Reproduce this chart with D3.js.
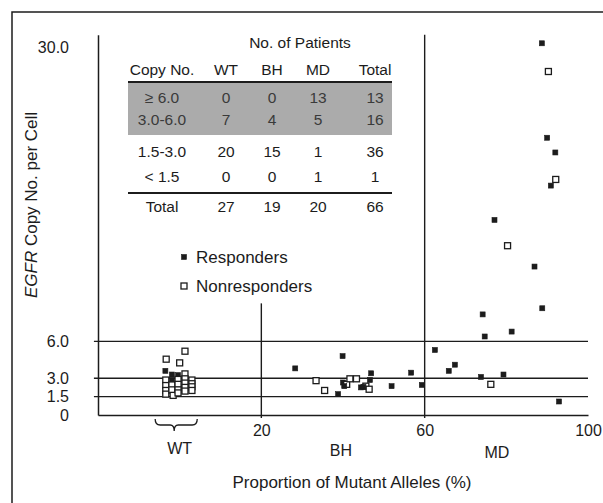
<!DOCTYPE html>
<html><head><meta charset="utf-8">
<script src="https://cdn.jsdelivr.net/npm/d3@7"></script>
<style>
body{margin:0;background:#fff;}
svg{display:block;font-family:"Liberation Sans",Arial,Helvetica,sans-serif;}
</style></head><body>
<svg id="chart" width="603" height="503"></svg>
<script>
// ---------- data ----------
const xTicks = [20, 60, 100];
const yTicks = [0, 1.5, 3.0, 6.0, 30.0];
const thresholds = [1.5, 3.0, 6.0];
const dividers = [20, 60];
const dividerTops = [9.1, 31];
const groupLabels = ["WT", "BH", "MD"];
const groupCenters = [0, 39.5, 77.7];
const wtBrace = [-6, 4.3];

// responders: 1 = responder (filled), 0 = nonresponder (open)
const wtX = [1.3, -3.3, 0.0, -3.5, -1.9, -0.4, 1.3,
  -3.4, -3.4, -3.4, -3.4, -1.9, -1.9, -1.9, -1.6, -0.4, -0.4, -0.4, -0.4,
  1.3, 1.3, 1.3, 1.3, 3.0, 3.0, 3.0, 3.0];
const wtY = [5.2, 4.55, 4.25, 3.6, 3.3, 3.25, 3.35,
  2.85, 2.4, 2.0, 1.7, 2.85, 2.45, 2.05, 1.6, 2.9, 2.5, 2.05, 1.8,
  2.95, 2.6, 2.25, 1.95, 2.85, 2.55, 2.3, 2.0];
const wtResp = [0, 0, 0, 1, 1, 1, 0,
  0, 0, 0, 0, 1, 0, 0, 0, 0, 0, 0, 0,
  0, 0, 0, 0, 0, 0, 0, 0];

const bhX = [28.3, 39.9, 46.9, 56.7, 33.4, 35.5, 38.8, 40.0, 40.9, 40.3, 41.7, 43.3, 44.4, 45.6, 46.4, 46.6, 51.9, 59.3, 45.0];
const bhY = [3.8, 4.8, 3.4, 3.45, 2.8, 2.0, 1.7, 2.65, 2.5, 2.35, 2.95, 2.95, 2.25, 2.35, 2.1, 2.85, 2.35, 2.45, 2.3];
const bhResp = [1, 1, 1, 1, 0, 0, 1, 1, 0, 1, 0, 0, 1, 0, 0, 1, 1, 1, 1];

const mdX = [88.7, 90.3, 90.0, 92.0, 92.1, 90.9, 77.1, 80.3, 86.9, 88.8, 74.2, 74.7, 81.3, 62.5, 67.4, 65.9, 73.8, 79.3, 76.2, 92.9];
const mdY = [30.3, 28.0, 22.6, 21.4, 19.2, 18.7, 15.9, 13.8, 12.1, 8.7, 8.2, 6.4, 6.8, 5.3, 4.1, 3.6, 3.1, 3.3, 2.5, 1.1];
const mdResp = [1, 0, 1, 1, 0, 1, 1, 0, 1, 1, 1, 1, 1, 1, 1, 1, 1, 1, 0, 1];

const legendLabels = ["Responders", "Nonresponders"];

const tableTitle = "No. of Patients";
const tableHeader = ["Copy No.", "WT", "BH", "MD", "Total"];
const tableRowLabels = ["\u2265 6.0", "3.0-6.0", "1.5-3.0", "< 1.5"];
const tableWT = [0, 7, 20, 0];
const tableBH = [0, 4, 15, 0];
const tableMD = [13, 5, 1, 1];
const tableTotal = [13, 16, 36, 1];
const tableTotalsRow = ["Total", 27, 19, 20, 66];

// ---------- chart ----------
const svg = d3.select("#chart");
const ink = "#1c1c1c";
const x = d3.scaleLinear().domain([-20, 100]).range([98, 588]);
const y = d3.scaleLinear().domain([0, 31]).range([415, 34.7]);

// frame
svg.append("path").attr("d", "M12,503V12H603").attr("fill", "none")
  .attr("stroke", ink).attr("stroke-width", 1.5);

// threshold lines
svg.selectAll("line.thr").data(thresholds).join("line").attr("class", "thr")
  .attr("x1", x(-21)).attr("x2", x(100)).attr("y1", d => y(d)).attr("y2", d => y(d))
  .attr("stroke", ink).attr("stroke-width", 1.4);

// dividers
svg.selectAll("line.div").data(dividers).join("line").attr("class", "div")
  .attr("x1", d => x(d)).attr("x2", d => x(d))
  .attr("y1", (d, i) => y(dividerTops[i])).attr("y2", y(0) + 3)
  .attr("stroke", ink).attr("stroke-width", 1.4);

// axes
const yAxis = d3.axisLeft(y).tickValues(yTicks).tickSize(0).tickPadding(29)
  .tickFormat(d => d === 0 ? "0" : d3.format(".1f")(d));
const gy = svg.append("g").attr("transform", `translate(${x(-20)},0)`).call(yAxis);
const xAxis = d3.axisBottom(x).tickValues(xTicks).tickSize(0).tickPadding(10);
const gx = svg.append("g").attr("transform", `translate(0,${y(0)})`).call(xAxis);
[gx, gy].forEach(g => {
  g.select(".domain").attr("stroke", ink).attr("stroke-width", 1.5);
  g.selectAll("text").attr("font-size", 16).attr("fill", ink)
    .attr("font-family", '"Liberation Sans",Arial,sans-serif');
});

// axis titles
svg.append("text").attr("x", 352).attr("y", 488).attr("text-anchor", "middle")
  .attr("font-size", 17).attr("fill", ink).text("Proportion of Mutant Alleles (%)");
const yt = svg.append("text").attr("transform", "translate(37,205) rotate(-90)")
  .attr("text-anchor", "middle").attr("font-size", 17).attr("fill", ink);
yt.append("tspan").attr("font-style", "italic").text("EGFR");
yt.append("tspan").text(" Copy No. per Cell");

// group labels
svg.selectAll("text.grp").data(groupLabels).join("text").attr("class", "grp")
  .attr("x", (d, i) => x(groupCenters[i])).attr("y", (d, i) => 454 + i * 2)
  .attr("text-anchor", "middle").attr("font-size", 16).attr("fill", ink).text(d => d);

// brace
const bx0 = x(wtBrace[0]), bx1 = x(wtBrace[1]), bxm = (bx0 + bx1) / 2 - 2;
svg.append("path")
  .attr("d", `M${bx0},419 Q${bx0},425 ${bx0 + 5},425 L${bxm - 4},425 Q${bxm},425 ${bxm},431 Q${bxm},425 ${bxm + 4},425 L${bx1 - 5},425 Q${bx1},425 ${bx1},419`)
  .attr("fill", "none").attr("stroke", ink).attr("stroke-width", 1.3);

// points
function drawPoints(xs, ys, rs) {
  const pts = xs.map((v, i) => ({x: v, y: ys[i], r: rs[i]}));
  svg.append("g").selectAll("rect").data(pts).join("rect")
    .attr("x", d => x(d.x) - (d.r ? 2.5 : 3))
    .attr("y", d => y(d.y) - (d.r ? 2.5 : 3))
    .attr("width", d => d.r ? 5 : 6).attr("height", d => d.r ? 5 : 6)
    .attr("fill", d => d.r ? ink : "#fff")
    .attr("stroke", ink).attr("stroke-width", d => d.r ? 0.6 : 1.3);
}
drawPoints(wtX, wtY, wtResp);
drawPoints(bhX, bhY, bhResp);
drawPoints(mdX, mdY, mdResp);

// legend
const lg = svg.append("g");
legendLabels.forEach((lab, i) => {
  const ly = 257 + i * 29;
  lg.append("rect").attr("x", i ? 181 : 181.5).attr("y", ly - (i ? 3 : 2.5))
    .attr("width", i ? 6 : 5).attr("height", i ? 6 : 5)
    .attr("fill", i ? "#fff" : ink).attr("stroke", ink).attr("stroke-width", i ? 1.3 : 0.6);
  lg.append("text").attr("x", 196).attr("y", ly).attr("dy", "0.35em")
    .attr("font-size", 17).attr("fill", ink).text(lab);
});

// table
const tg = svg.append("g").attr("font-size", 15.5).attr("fill", ink);
const colX = [162, 226, 272, 318, 375];
const rowY = [98, 120, 152, 177];
tg.append("rect").attr("x", 128).attr("y", 83).attr("width", 264).attr("height", 52)
  .attr("fill", "#ababab");
tg.append("text").attr("x", 300).attr("y", 43).attr("dy", "0.35em")
  .attr("text-anchor", "middle").text(tableTitle);
tableHeader.forEach((h, i) => {
  tg.append("text").attr("x", colX[i]).attr("y", 70).attr("dy", "0.35em")
    .attr("text-anchor", "middle").text(h);
});
tg.append("line").attr("x1", 128).attr("x2", 392).attr("y1", 82).attr("y2", 82)
  .attr("stroke", ink).attr("stroke-width", 2);
tg.append("line").attr("x1", 128).attr("x2", 392).attr("y1", 193).attr("y2", 193)
  .attr("stroke", ink).attr("stroke-width", 2);
const cols = [tableRowLabels, tableWT, tableBH, tableMD, tableTotal];
tableRowLabels.forEach((r, ri) => {
  cols.forEach((c, ci) => {
    tg.append("text").attr("x", colX[ci]).attr("y", rowY[ri]).attr("dy", "0.35em")
      .attr("text-anchor", "middle").attr("fill", ri < 2 ? "#3a3a3a" : ink)
      .text(c[ri]);
  });
});
tableTotalsRow.forEach((v, ci) => {
  tg.append("text").attr("x", colX[ci]).attr("y", 207).attr("dy", "0.35em")
    .attr("text-anchor", "middle").text(v);
});
</script></body></html>
